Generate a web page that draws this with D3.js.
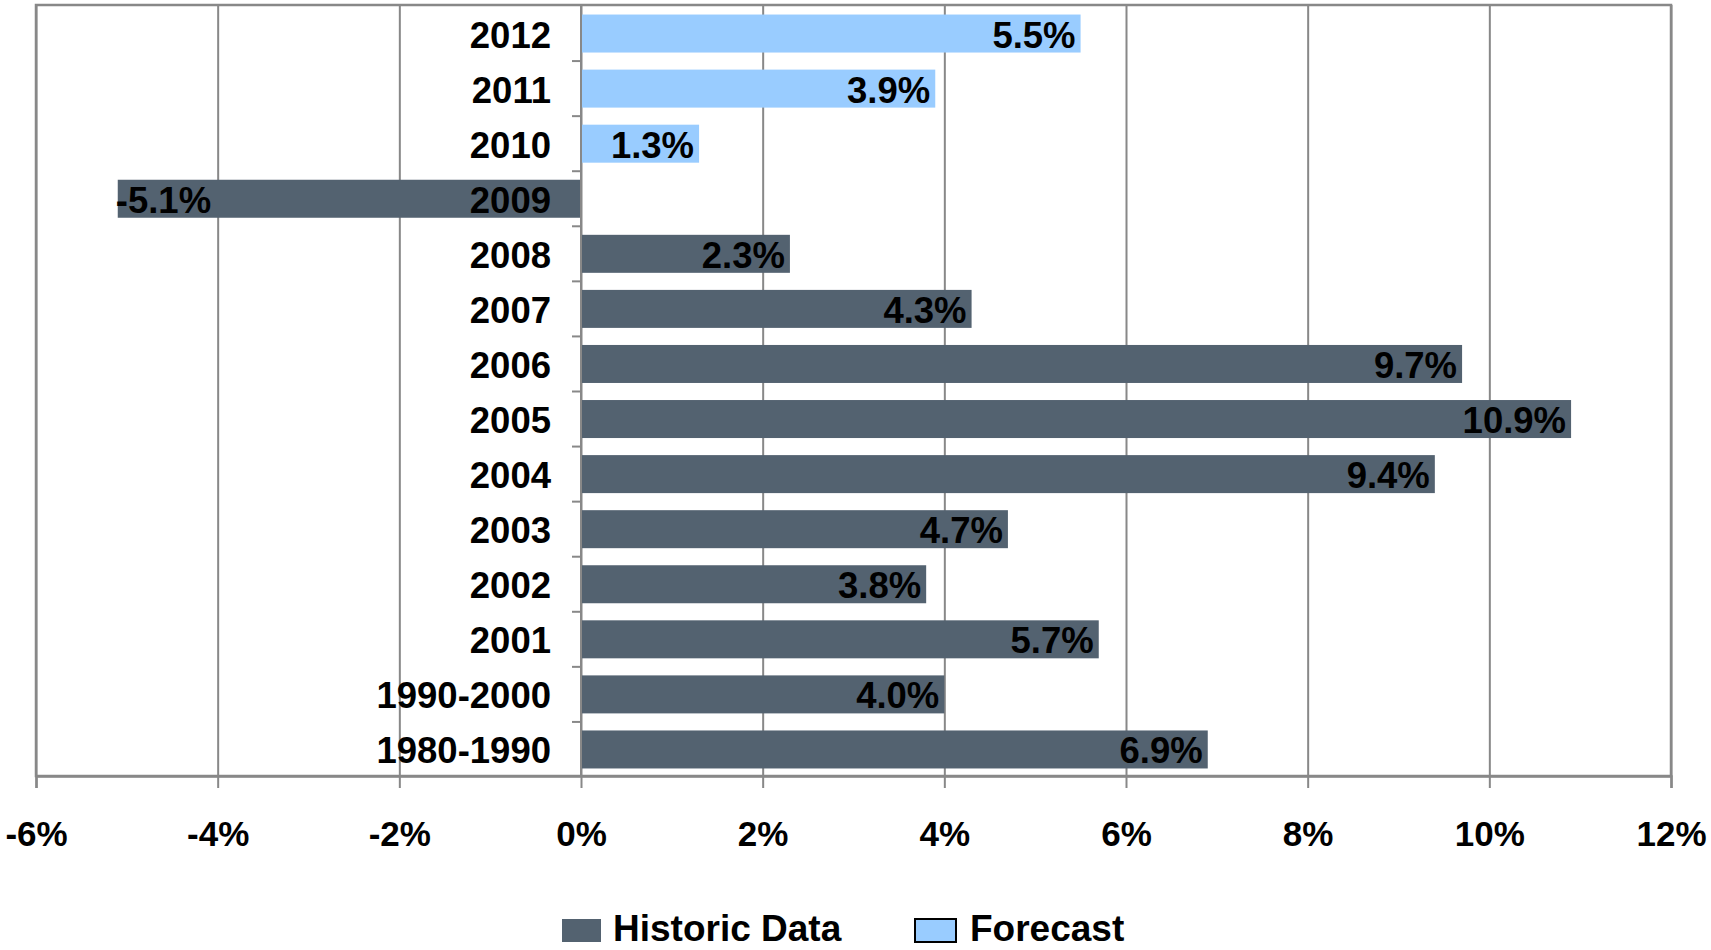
<!DOCTYPE html>
<html>
<head>
<meta charset="utf-8">
<script src="https://cdnjs.cloudflare.com/ajax/libs/d3/7.8.5/d3.min.js"></script>
<style>
    body { margin: 0; background: #fff; }
    text { font-family: "Liberation Sans", Arial, sans-serif; font-weight: bold; }
</style>
</head>
<body>
<div id="bar-chart"></div>
<script>
// data
const categories = ["2012", "2011", "2010", "2009", "2008", "2007", "2006", "2005", "2004", "2003", "2002", "2001", "1990-2000", "1980-1990"];
const growth = [5.5, 3.9, 1.3, -5.1, 2.3, 4.3, 9.7, 10.9, 9.4, 4.7, 3.8, 5.7, 4.0, 6.9];
const isForecast = [true, true, true, false, false, false, false, false, false, false, false, false, false, false];
const xTicks = [-6, -4, -2, 0, 2, 4, 6, 8, 10, 12];
const seriesNames = ["Historic Data", "Forecast"];

(function() {
    var width = 1711;
    var height = 950;
    const left = 36, right = 1671, top = 5, bottom = 776;
    const histColor = '#536270';
    const foreColor = '#99ccff';
    const gridColor = '#888888';

    var data = categories.map((c, i) => ({ name: c, value: growth[i], forecast: isForecast[i] }));

    var svg = d3.select("#bar-chart")
    .append("svg")
    .attr("width", width)
    .attr("height", height);

    const xScale = d3.scaleLinear()
    .domain([-6, 12])
    .range([left, right]);

    const yScale = d3.scaleBand()
    .domain(categories)
    .range([top + 1, bottom + 1])
    .paddingInner(0.31)
    .paddingOuter(0.155);

    // vertical grid lines
    svg.append('g')
    .attr('transform', `translate(0, ${top})`)
    .call(d3.axisBottom(xScale)
        .tickValues(xTicks)
        .tickSize(bottom - top)
        .tickFormat('')
    )
    .call(g => g.select('.domain').remove())
    .call(g => g.selectAll('line').attr('stroke', gridColor).attr('stroke-width', 2));

    // plot border
    svg.append('rect')
    .attr('x', left)
    .attr('y', top)
    .attr('width', right - left)
    .attr('height', bottom - top)
    .attr('fill', 'none')
    .attr('stroke', gridColor)
    .attr('stroke-width', 2.5);

    // bars
    const barGroups = svg.selectAll()
    .data(data)
    .enter()
    .append('g');

    barGroups.append('rect')
    .attr('x', d => xScale(Math.min(0, d.value)))
    .attr('y', d => yScale(d.name))
    .attr('width', d => Math.abs(xScale(d.value) - xScale(0)))
    .attr('height', yScale.bandwidth())
    .attr('fill', d => d.forecast ? foreColor : histColor);

    // x axis
    svg.append('g')
    .attr('transform', `translate(0, ${bottom})`)
    .call(d3.axisBottom(xScale)
        .tickValues(xTicks)
        .tickSize(12)
        .tickPadding(33)
        .tickFormat(d => d + '%')
    )
    .call(g => g.select('.domain').attr('stroke', gridColor).attr('stroke-width', 2.5))
    .call(g => g.selectAll('line').attr('stroke', gridColor).attr('stroke-width', 2))
    .call(g => g.selectAll('text')
        .attr('fill', '#000')
        .style('font-size', '35px')
        .style('font-family', '"Liberation Sans", Arial, sans-serif')
        .style('font-weight', 'bold'));

    // y axis at zero: ticks between categories
    const zx = xScale(0);
    svg.append('line')
    .attr('x1', zx).attr('x2', zx)
    .attr('y1', top).attr('y2', bottom)
    .attr('stroke', gridColor)
    .attr('stroke-width', 2);

    const step = yScale.step();
    svg.append('g')
    .selectAll('line')
    .data(categories.slice(1))
    .enter()
    .append('line')
    .attr('x1', zx - 9).attr('x2', zx)
    .attr('y1', d => yScale(d) - step * 0.31 / 2)
    .attr('y2', d => yScale(d) - step * 0.31 / 2)
    .attr('stroke', gridColor)
    .attr('stroke-width', 2);

    // category labels
    svg.append('g')
    .selectAll('text')
    .data(categories)
    .enter()
    .append('text')
    .attr('x', zx - 30)
    .attr('y', d => yScale(d) + yScale.bandwidth() / 2 + 14)
    .attr('text-anchor', 'end')
    .style('font-size', '36.5px')
    .text(d => d);

    // value labels
    barGroups.append('text')
    .attr('x', d => d.value < 0 ? xScale(d.value) - 2 : xScale(d.value) - 5)
    .attr('y', d => yScale(d.name) + yScale.bandwidth() / 2 + 14)
    .attr('text-anchor', d => d.value < 0 ? 'start' : 'end')
    .attr('fill', '#000')
    .style('font-size', '36.5px')
    .text(d => d.value.toFixed(1) + '%');

    // legend
    const legend = svg.append('g');
    const legendX = [562, 915];
    const legendW = [39, 41];
    const legendColors = [histColor, foreColor];
    seriesNames.forEach((name, i) => {
        legend.append('rect')
        .attr('x', legendX[i])
        .attr('y', 919)
        .attr('width', legendW[i])
        .attr('height', 23)
        .attr('fill', legendColors[i])
        .attr('stroke', i == 1 ? '#000' : 'none')
        .attr('stroke-width', 2);
        legend.append('text')
        .attr('x', i == 0 ? 613 : 970)
        .attr('y', 941)
        .style('font-size', '37px')
        .text(name);
    });
})();
</script>
</body>
</html>
